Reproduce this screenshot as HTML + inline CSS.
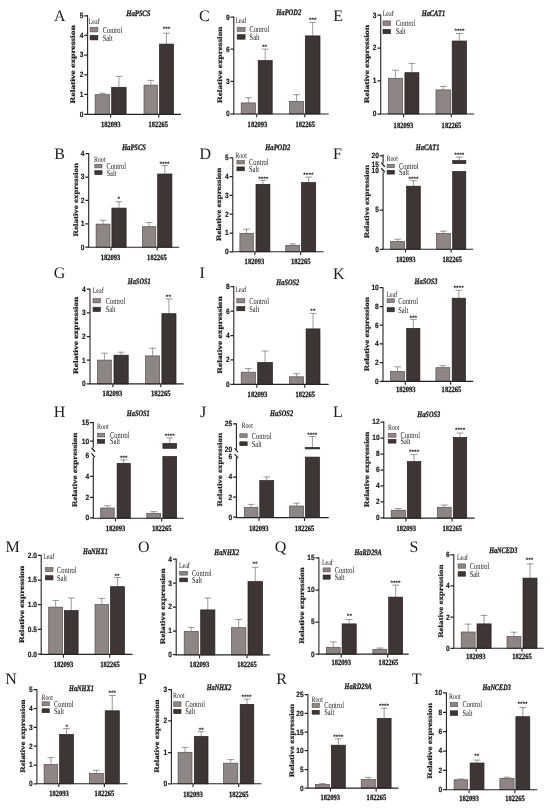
<!DOCTYPE html>
<html lang="en"><head><meta charset="utf-8"><title>Relative expression of salt-responsive genes</title>
<style>
html,body{margin:0;padding:0;background:#fff}
body{width:550px;height:808px;overflow:hidden}
svg{display:block;filter:blur(0.35px)}
text{fill:#1f1b1b;font-family:"Liberation Serif",serif;text-rendering:geometricPrecision}
.pl{font-size:16px}
.tk{font-family:"Liberation Sans",sans-serif;font-weight:bold;font-size:7.6px;stroke:#1f1b1b;stroke-width:0.2px}
.st{font-family:"Liberation Sans",sans-serif;font-weight:bold;font-size:6.5px;fill:#2a2626}
.ti{font-weight:bold;font-style:italic;font-size:8.3px;stroke:#1f1b1b;stroke-width:0.3px}
.ts{font-size:8px}
.lg{font-size:9px}
.xl{font-weight:bold;font-size:8px;stroke:#1f1b1b;stroke-width:0.3px}
.yl{font-weight:bold;font-size:10px;stroke:#1f1b1b;stroke-width:0.3px}
</style></head><body>
<svg width="550" height="808" viewBox="0 0 550 808">
<rect width="550" height="808" fill="#fff"/>
<g id="panel-A">
<text class="pl" transform="translate(53.9 20.7) scale(1 1)">A</text>
<path d="M102.4 94.4V93.2M99 93.2H105.8" stroke="#5a5656" stroke-width="0.6" fill="none"/>
<rect x="95.1" y="94.7" width="14.6" height="19.7" fill="#8d8685" stroke="#544d4c" stroke-width="0.7"/>
<path d="M118.9 87V76.4M115.5 76.4H122.3" stroke="#5a5656" stroke-width="0.6" fill="none"/>
<rect x="111.7" y="87.3" width="14.4" height="27.1" fill="#3e3634" stroke="#241e1d" stroke-width="0.7"/>
<path d="M150.8 84.8V80.4M147.4 80.4H154.2" stroke="#5a5656" stroke-width="0.6" fill="none"/>
<rect x="144" y="85.1" width="13.6" height="29.3" fill="#8d8685" stroke="#544d4c" stroke-width="0.7"/>
<path d="M166.5 43.8V33.2M163.1 33.2H169.9" stroke="#5a5656" stroke-width="0.6" fill="none"/>
<rect x="159.5" y="44.1" width="14" height="70.3" fill="#3e3634" stroke="#241e1d" stroke-width="0.7"/>
<path d="M87.6 15V114.4" stroke="#262222" stroke-width="1.1" fill="none"/>
<path d="M87.05 114.4H181" stroke="#262222" stroke-width="1.1" fill="none"/>
<path d="M110.6 114.4v3.3M158.75 114.4v3.3" stroke="#262222" stroke-width="1.1" fill="none"/>
<path d="M84.3 15.8H87.6M84.3 35.4H87.6M84.3 55H87.6M84.3 74.8H87.6M84.3 94.4H87.6M84.3 114.3H87.6" stroke="#262222" stroke-width="1.25" fill="none"/>
<text class="tk" transform="translate(83.4 18.25) scale(0.87 1)" text-anchor="end">5</text>
<text class="tk" transform="translate(83.4 37.85) scale(0.87 1)" text-anchor="end">4</text>
<text class="tk" transform="translate(83.4 57.45) scale(0.87 1)" text-anchor="end">3</text>
<text class="tk" transform="translate(83.4 77.25) scale(0.87 1)" text-anchor="end">2</text>
<text class="tk" transform="translate(83.4 96.85) scale(0.87 1)" text-anchor="end">1</text>
<text class="tk" transform="translate(83.4 116.75) scale(0.87 1)" text-anchor="end">0</text>
<text class="st" transform="translate(166.6 31.3) scale(1 1)" text-anchor="middle">***</text>
<text class="ti" transform="translate(138.4 15.6) scale(0.807 1)" text-anchor="middle">HaP5CS</text>
<text class="ts" transform="translate(88.7 23.8) scale(0.745 1)">Leaf</text>
<rect x="90.1" y="27.4" width="7.8" height="4.5" fill="#8d8685" stroke="#544d4c" stroke-width="0.6"/>
<rect x="90.1" y="35.4" width="7.8" height="4.5" fill="#3e3634" stroke="#241e1d" stroke-width="0.6"/>
<text class="lg" transform="translate(102.7 32.55) scale(0.713 1)">Control</text>
<text class="lg" transform="translate(102.7 40.55) scale(0.713 1)">Salt</text>
<text class="xl" transform="translate(110.7 127.25) scale(0.815 1)" text-anchor="middle">182093</text>
<text class="xl" transform="translate(158.2 127.25) scale(0.815 1)" text-anchor="middle">182265</text>
<text class="yl" transform="translate(75.4 64.35) rotate(-90) scale(0.95 0.7)" text-anchor="middle">Relative expression</text>
</g>
<g id="panel-C">
<text class="pl" transform="translate(198.9 20.7) scale(1 1)">C</text>
<path d="M248.3 102.6V97.7M244.9 97.7H251.7" stroke="#5a5656" stroke-width="0.6" fill="none"/>
<rect x="241.2" y="102.9" width="14.2" height="11.1" fill="#8d8685" stroke="#544d4c" stroke-width="0.7"/>
<path d="M265.2 60.3V49.1M261.8 49.1H268.6" stroke="#5a5656" stroke-width="0.6" fill="none"/>
<rect x="258.2" y="60.6" width="14" height="53.4" fill="#3e3634" stroke="#241e1d" stroke-width="0.7"/>
<path d="M296.55 101V94.7M293.15 94.7H299.95" stroke="#5a5656" stroke-width="0.6" fill="none"/>
<rect x="289.6" y="101.3" width="13.9" height="12.7" fill="#8d8685" stroke="#544d4c" stroke-width="0.7"/>
<path d="M312.65 35.6V22.4M309.25 22.4H316.05" stroke="#5a5656" stroke-width="0.6" fill="none"/>
<rect x="305.3" y="35.9" width="14.7" height="78.1" fill="#3e3634" stroke="#241e1d" stroke-width="0.7"/>
<path d="M233.8 16.5V114" stroke="#262222" stroke-width="1.1" fill="none"/>
<path d="M233.25 114H328.7" stroke="#262222" stroke-width="1.1" fill="none"/>
<path d="M256.7 114v3.3M304.8 114v3.3" stroke="#262222" stroke-width="1.1" fill="none"/>
<path d="M230.5 17.05H233.8M230.5 49.1H233.8M230.5 81.4H233.8M230.5 114H233.8" stroke="#262222" stroke-width="1.25" fill="none"/>
<text class="tk" transform="translate(229.6 19.5) scale(0.87 1)" text-anchor="end">9</text>
<text class="tk" transform="translate(229.6 51.55) scale(0.87 1)" text-anchor="end">6</text>
<text class="tk" transform="translate(229.6 83.85) scale(0.87 1)" text-anchor="end">3</text>
<text class="tk" transform="translate(229.6 116.45) scale(0.87 1)" text-anchor="end">0</text>
<text class="st" transform="translate(264.6 49.1) scale(1 1)" text-anchor="middle">**</text>
<text class="st" transform="translate(312.7 21.6) scale(1 1)" text-anchor="middle">***</text>
<text class="ti" transform="translate(288.8 14.5) scale(0.786 1)" text-anchor="middle">HaPOD2</text>
<text class="ts" transform="translate(235.4 23.2) scale(0.745 1)">Leaf</text>
<rect x="237.2" y="27.3" width="7.9" height="4.1" fill="#8d8685" stroke="#544d4c" stroke-width="0.6"/>
<rect x="237.2" y="34.7" width="7.9" height="4.5" fill="#3e3634" stroke="#241e1d" stroke-width="0.6"/>
<text class="lg" transform="translate(249.6 32.25) scale(0.713 1)">Control</text>
<text class="lg" transform="translate(249.6 39.85) scale(0.713 1)">Salt</text>
<text class="xl" transform="translate(257.4 126.5) scale(0.815 1)" text-anchor="middle">182093</text>
<text class="xl" transform="translate(305.3 126.5) scale(0.815 1)" text-anchor="middle">182265</text>
<text class="yl" transform="translate(222.1 64.75) rotate(-90) scale(0.93 0.7)" text-anchor="middle">Relative expression</text>
</g>
<g id="panel-E">
<text class="pl" transform="translate(333.2 20.5) scale(1 1)">E</text>
<path d="M395.4 78V70.2M392 70.2H398.8" stroke="#5a5656" stroke-width="0.6" fill="none"/>
<rect x="388.3" y="78.3" width="14.2" height="35.7" fill="#8d8685" stroke="#544d4c" stroke-width="0.7"/>
<path d="M411.9 72.4V63.4M408.5 63.4H415.3" stroke="#5a5656" stroke-width="0.6" fill="none"/>
<rect x="404.9" y="72.7" width="14" height="41.3" fill="#3e3634" stroke="#241e1d" stroke-width="0.7"/>
<path d="M443.25 89.6V86.4M439.85 86.4H446.65" stroke="#5a5656" stroke-width="0.6" fill="none"/>
<rect x="436" y="89.9" width="14.5" height="24.1" fill="#8d8685" stroke="#544d4c" stroke-width="0.7"/>
<path d="M459.35 40.7V33.5M455.95 33.5H462.75" stroke="#5a5656" stroke-width="0.6" fill="none"/>
<rect x="452.2" y="41" width="14.3" height="73" fill="#3e3634" stroke="#241e1d" stroke-width="0.7"/>
<path d="M380.7 14.6V114" stroke="#262222" stroke-width="1.1" fill="none"/>
<path d="M380.15 114H474.3" stroke="#262222" stroke-width="1.1" fill="none"/>
<path d="M403.6 114v3.3M451.25 114v3.3" stroke="#262222" stroke-width="1.1" fill="none"/>
<path d="M377.4 15.1H380.7M377.4 48H380.7M377.4 80.9H380.7M377.4 114H380.7" stroke="#262222" stroke-width="1.25" fill="none"/>
<text class="tk" transform="translate(376.5 17.55) scale(0.87 1)" text-anchor="end">3</text>
<text class="tk" transform="translate(376.5 50.45) scale(0.87 1)" text-anchor="end">2</text>
<text class="tk" transform="translate(376.5 83.35) scale(0.87 1)" text-anchor="end">1</text>
<text class="tk" transform="translate(376.5 116.45) scale(0.87 1)" text-anchor="end">0</text>
<text class="st" transform="translate(459.5 33.3) scale(1 1)" text-anchor="middle">****</text>
<text class="ti" transform="translate(433.4 16) scale(0.772 1)" text-anchor="middle">HaCAT1</text>
<text class="ts" transform="translate(382.7 16.4) scale(0.745 1)">Leaf</text>
<rect x="383" y="20.9" width="7.5" height="4.6" fill="#8d8685" stroke="#544d4c" stroke-width="0.6"/>
<rect x="383" y="29.4" width="7.5" height="4.3" fill="#3e3634" stroke="#241e1d" stroke-width="0.6"/>
<text class="lg" transform="translate(395.7 26.1) scale(0.713 1)">Control</text>
<text class="lg" transform="translate(395.7 34.45) scale(0.713 1)">Salt</text>
<text class="xl" transform="translate(403.4 127.5) scale(0.815 1)" text-anchor="middle">182093</text>
<text class="xl" transform="translate(451.4 127.5) scale(0.815 1)" text-anchor="middle">182265</text>
<text class="yl" transform="translate(368.9 64.15) rotate(-90) scale(0.95 0.7)" text-anchor="middle">Relative expression</text>
</g>
<g id="panel-B">
<text class="pl" transform="translate(54.2 158.6) scale(1 1)">B</text>
<path d="M103.05 223.8V220.3M99.65 220.3H106.45" stroke="#5a5656" stroke-width="0.6" fill="none"/>
<rect x="96.1" y="224.1" width="13.9" height="23.1" fill="#8d8685" stroke="#544d4c" stroke-width="0.7"/>
<path d="M119 207.8V201.7M115.6 201.7H122.4" stroke="#5a5656" stroke-width="0.6" fill="none"/>
<rect x="111.9" y="208.1" width="14.2" height="39.1" fill="#3e3634" stroke="#241e1d" stroke-width="0.7"/>
<path d="M149.1 226.4V222.6M145.7 222.6H152.5" stroke="#5a5656" stroke-width="0.6" fill="none"/>
<rect x="142.4" y="226.7" width="13.4" height="20.5" fill="#8d8685" stroke="#544d4c" stroke-width="0.7"/>
<path d="M164.8 173.7V165.5M161.4 165.5H168.2" stroke="#5a5656" stroke-width="0.6" fill="none"/>
<rect x="157.7" y="174" width="14.2" height="73.2" fill="#3e3634" stroke="#241e1d" stroke-width="0.7"/>
<path d="M88.7 153.1V247.2" stroke="#262222" stroke-width="1.1" fill="none"/>
<path d="M88.15 247.2H179.2" stroke="#262222" stroke-width="1.1" fill="none"/>
<path d="M111.1 247.2v3.3M157.15 247.2v3.3" stroke="#262222" stroke-width="1.1" fill="none"/>
<path d="M85.4 153.6H88.7M85.4 177H88.7M85.4 200.4H88.7M85.4 223.8H88.7M85.4 247.2H88.7" stroke="#262222" stroke-width="1.25" fill="none"/>
<text class="tk" transform="translate(84.5 156.05) scale(0.87 1)" text-anchor="end">4</text>
<text class="tk" transform="translate(84.5 179.45) scale(0.87 1)" text-anchor="end">3</text>
<text class="tk" transform="translate(84.5 202.85) scale(0.87 1)" text-anchor="end">2</text>
<text class="tk" transform="translate(84.5 226.25) scale(0.87 1)" text-anchor="end">1</text>
<text class="tk" transform="translate(84.5 249.65) scale(0.87 1)" text-anchor="end">0</text>
<text class="st" transform="translate(118.7 201.3) scale(1 1)" text-anchor="middle">*</text>
<text class="st" transform="translate(164.5 165.8) scale(1 1)" text-anchor="middle">****</text>
<text class="ti" transform="translate(134 149.8) scale(0.807 1)" text-anchor="middle">HaP5CS</text>
<text class="ts" transform="translate(93.9 162.1) scale(0.745 1)">Root</text>
<rect x="94.8" y="164.4" width="7.2" height="3.5" fill="#8d8685" stroke="#544d4c" stroke-width="0.6"/>
<rect x="94.8" y="170.7" width="7.2" height="3.9" fill="#3e3634" stroke="#241e1d" stroke-width="0.6"/>
<text class="lg" transform="translate(106.5 169.05) scale(0.713 1)">Control</text>
<text class="lg" transform="translate(106.5 175.55) scale(0.713 1)">Salt</text>
<text class="xl" transform="translate(110.6 259.8) scale(0.815 1)" text-anchor="middle">182093</text>
<text class="xl" transform="translate(156.9 259.8) scale(0.815 1)" text-anchor="middle">182265</text>
<text class="yl" transform="translate(78.1 199.75) rotate(-90) scale(0.89 0.7)" text-anchor="middle">Relative expression</text>
</g>
<g id="panel-D">
<text class="pl" transform="translate(199.4 158.6) scale(1 1)">D</text>
<path d="M246.6 233V229.2M243.2 229.2H250" stroke="#5a5656" stroke-width="0.6" fill="none"/>
<rect x="239.9" y="233.3" width="13.4" height="18.5" fill="#8d8685" stroke="#544d4c" stroke-width="0.7"/>
<path d="M262.95 184.1V180.3M259.55 180.3H266.35" stroke="#5a5656" stroke-width="0.6" fill="none"/>
<rect x="256" y="184.4" width="13.9" height="67.4" fill="#3e3634" stroke="#241e1d" stroke-width="0.7"/>
<path d="M292.7 245.2V243.9M289.3 243.9H296.1" stroke="#5a5656" stroke-width="0.6" fill="none"/>
<rect x="285.7" y="245.5" width="14" height="6.3" fill="#8d8685" stroke="#544d4c" stroke-width="0.7"/>
<path d="M308.6 182.3V177.1M305.2 177.1H312" stroke="#5a5656" stroke-width="0.6" fill="none"/>
<rect x="301.5" y="182.6" width="14.2" height="69.2" fill="#3e3634" stroke="#241e1d" stroke-width="0.7"/>
<path d="M232.8 157.4V251.8" stroke="#262222" stroke-width="1.1" fill="none"/>
<path d="M232.25 251.8H323.6" stroke="#262222" stroke-width="1.1" fill="none"/>
<path d="M254.9 251.8v3.3M300.7 251.8v3.3" stroke="#262222" stroke-width="1.1" fill="none"/>
<path d="M229.5 157.9H232.8M229.5 176.5H232.8M229.5 195.3H232.8M229.5 214.2H232.8M229.5 233H232.8M229.5 251.8H232.8" stroke="#262222" stroke-width="1.25" fill="none"/>
<text class="tk" transform="translate(228.6 160.35) scale(0.87 1)" text-anchor="end">5</text>
<text class="tk" transform="translate(228.6 178.95) scale(0.87 1)" text-anchor="end">4</text>
<text class="tk" transform="translate(228.6 197.75) scale(0.87 1)" text-anchor="end">3</text>
<text class="tk" transform="translate(228.6 216.65) scale(0.87 1)" text-anchor="end">2</text>
<text class="tk" transform="translate(228.6 235.45) scale(0.87 1)" text-anchor="end">1</text>
<text class="tk" transform="translate(228.6 254.25) scale(0.87 1)" text-anchor="end">0</text>
<text class="st" transform="translate(263.3 180.8) scale(1 1)" text-anchor="middle">****</text>
<text class="st" transform="translate(308.4 177) scale(1 1)" text-anchor="middle">****</text>
<text class="ti" transform="translate(277.8 149.8) scale(0.786 1)" text-anchor="middle">HaPOD2</text>
<text class="ts" transform="translate(235.3 158) scale(0.745 1)">Root</text>
<rect x="236.9" y="160.5" width="7.5" height="3.5" fill="#8d8685" stroke="#544d4c" stroke-width="0.6"/>
<rect x="236.9" y="166.9" width="7.5" height="3.9" fill="#3e3634" stroke="#241e1d" stroke-width="0.6"/>
<text class="lg" transform="translate(249 165.15) scale(0.713 1)">Control</text>
<text class="lg" transform="translate(249 171.75) scale(0.713 1)">Salt</text>
<text class="xl" transform="translate(254.4 264.1) scale(0.815 1)" text-anchor="middle">182093</text>
<text class="xl" transform="translate(300.7 264.1) scale(0.815 1)" text-anchor="middle">182265</text>
<text class="yl" transform="translate(221.3 204.35) rotate(-90) scale(0.89 0.7)" text-anchor="middle">Relative expression</text>
</g>
<g id="panel-F">
<text class="pl" transform="translate(333 158.6) scale(1 1)">F</text>
<path d="M397.65 241.2V239.2M394.25 239.2H401.05" stroke="#5a5656" stroke-width="0.6" fill="none"/>
<rect x="390.7" y="241.5" width="13.9" height="7.8" fill="#8d8685" stroke="#544d4c" stroke-width="0.7"/>
<path d="M413.45 185.9V180.6M410.05 180.6H416.85" stroke="#5a5656" stroke-width="0.6" fill="none"/>
<rect x="406.6" y="186.2" width="13.7" height="63.1" fill="#3e3634" stroke="#241e1d" stroke-width="0.7"/>
<path d="M443.4 233.3V231.2M440 231.2H446.8" stroke="#5a5656" stroke-width="0.6" fill="none"/>
<rect x="436.5" y="233.6" width="13.8" height="15.7" fill="#8d8685" stroke="#544d4c" stroke-width="0.7"/>
<path d="M459.25 160.3V157M455.85 157H462.65" stroke="#5a5656" stroke-width="0.6" fill="none"/>
<rect x="452.7" y="171.5" width="13.1" height="77.8" fill="#3e3634" stroke="#241e1d" stroke-width="0.7"/>
<rect x="452.7" y="160.6" width="13.1" height="3" fill="#3e3634" stroke="#241e1d" stroke-width="0.7"/>
<path d="M383.1 154.3V163.2M383.1 172.3V249.3" stroke="#262222" stroke-width="1.1" fill="none"/>
<path d="M381.3 162.75L384.8 166.75M381.3 168.25L384.8 172.25" stroke="#262222" stroke-width="1.25" fill="none"/>
<path d="M382.55 249.3H473.2" stroke="#262222" stroke-width="1.1" fill="none"/>
<path d="M405.5 249.3v3.3M451.15 249.3v3.3" stroke="#262222" stroke-width="1.1" fill="none"/>
<path d="M379.8 155.8H383.1M379.8 210H383.1M379.8 249.3H383.1" stroke="#262222" stroke-width="1.25" fill="none"/>
<text class="tk" transform="translate(378.9 158.25) scale(0.87 1)" text-anchor="end">20</text>
<text class="tk" transform="translate(378.9 166.65) scale(0.87 1)" text-anchor="end">15</text>
<text class="tk" transform="translate(378.9 173.45) scale(0.87 1)" text-anchor="end">10</text>
<text class="tk" transform="translate(378.9 212.45) scale(0.87 1)" text-anchor="end">5</text>
<text class="tk" transform="translate(378.9 251.75) scale(0.87 1)" text-anchor="end">0</text>
<text class="st" transform="translate(413.5 180.7) scale(1 1)" text-anchor="middle">****</text>
<text class="st" transform="translate(459.2 156.9) scale(1 1)" text-anchor="middle">****</text>
<text class="ti" transform="translate(427.6 150.4) scale(0.772 1)" text-anchor="middle">HaCAT1</text>
<text class="ts" transform="translate(386.4 161.2) scale(0.745 1)">Root</text>
<rect x="387.1" y="164.3" width="7.2" height="3.4" fill="#8d8685" stroke="#544d4c" stroke-width="0.6"/>
<rect x="387.1" y="170.3" width="7.2" height="3.8" fill="#3e3634" stroke="#241e1d" stroke-width="0.6"/>
<text class="lg" transform="translate(399 168.9) scale(0.713 1)">Control</text>
<text class="lg" transform="translate(399 175.1) scale(0.713 1)">Salt</text>
<text class="xl" transform="translate(405.7 262.1) scale(0.815 1)" text-anchor="middle">182093</text>
<text class="xl" transform="translate(452.2 262.1) scale(0.815 1)" text-anchor="middle">182265</text>
<text class="yl" transform="translate(368.6 201.65) rotate(-90) scale(0.89 0.7)" text-anchor="middle">Relative expression</text>
</g>
<g id="panel-G">
<text class="pl" transform="translate(53.8 278.4) scale(1 1)">G</text>
<path d="M104.4 359.8V353.2M101 353.2H107.8" stroke="#5a5656" stroke-width="0.6" fill="none"/>
<rect x="97.5" y="360.1" width="13.8" height="23.8" fill="#8d8685" stroke="#544d4c" stroke-width="0.7"/>
<path d="M121.1 354.9V352.2M117.7 352.2H124.5" stroke="#5a5656" stroke-width="0.6" fill="none"/>
<rect x="114" y="355.2" width="14.2" height="28.7" fill="#3e3634" stroke="#241e1d" stroke-width="0.7"/>
<path d="M152.6 355.6V348.2M149.2 348.2H156" stroke="#5a5656" stroke-width="0.6" fill="none"/>
<rect x="145.6" y="355.9" width="14" height="28" fill="#8d8685" stroke="#544d4c" stroke-width="0.7"/>
<path d="M168.95 313.4V298.9M165.55 298.9H172.35" stroke="#5a5656" stroke-width="0.6" fill="none"/>
<rect x="161.9" y="313.7" width="14.1" height="70.2" fill="#3e3634" stroke="#241e1d" stroke-width="0.7"/>
<path d="M90 288.7V383.9" stroke="#262222" stroke-width="1.1" fill="none"/>
<path d="M89.45 383.9H183.6" stroke="#262222" stroke-width="1.1" fill="none"/>
<path d="M112.85 383.9v3.3M160.8 383.9v3.3" stroke="#262222" stroke-width="1.1" fill="none"/>
<path d="M86.7 289.2H90M86.7 312.8H90M86.7 336.5H90M86.7 360.2H90M86.7 383.9H90" stroke="#262222" stroke-width="1.25" fill="none"/>
<text class="tk" transform="translate(85.8 291.65) scale(0.87 1)" text-anchor="end">4</text>
<text class="tk" transform="translate(85.8 315.25) scale(0.87 1)" text-anchor="end">3</text>
<text class="tk" transform="translate(85.8 338.95) scale(0.87 1)" text-anchor="end">2</text>
<text class="tk" transform="translate(85.8 362.65) scale(0.87 1)" text-anchor="end">1</text>
<text class="tk" transform="translate(85.8 386.35) scale(0.87 1)" text-anchor="end">0</text>
<text class="st" transform="translate(168.4 298.8) scale(1 1)" text-anchor="middle">**</text>
<text class="ti" transform="translate(139.2 284) scale(0.767 1)" text-anchor="middle">HaSOS1</text>
<text class="ts" transform="translate(92.7 293.2) scale(0.745 1)">Leaf</text>
<rect x="93" y="298.6" width="7.5" height="4.3" fill="#8d8685" stroke="#544d4c" stroke-width="0.6"/>
<rect x="93" y="307.2" width="7.5" height="4.3" fill="#3e3634" stroke="#241e1d" stroke-width="0.6"/>
<text class="lg" transform="translate(105.7 303.65) scale(0.713 1)">Control</text>
<text class="lg" transform="translate(105.7 312.25) scale(0.713 1)">Salt</text>
<text class="xl" transform="translate(112.4 396.2) scale(0.815 1)" text-anchor="middle">182093</text>
<text class="xl" transform="translate(160.8 396.2) scale(0.815 1)" text-anchor="middle">182265</text>
<text class="yl" transform="translate(78.4 335.35) rotate(-90) scale(0.94 0.7)" text-anchor="middle">Relative expression</text>
</g>
<g id="panel-I">
<text class="pl" transform="translate(199.6 278.4) scale(1 1)">I</text>
<path d="M248.3 371.9V368.6M244.9 368.6H251.7" stroke="#5a5656" stroke-width="0.6" fill="none"/>
<rect x="241.2" y="372.2" width="14.2" height="12.2" fill="#8d8685" stroke="#544d4c" stroke-width="0.7"/>
<path d="M265.05 362.2V351M261.65 351H268.45" stroke="#5a5656" stroke-width="0.6" fill="none"/>
<rect x="257.7" y="362.5" width="14.7" height="21.9" fill="#3e3634" stroke="#241e1d" stroke-width="0.7"/>
<path d="M296.55 376.5V373.7M293.15 373.7H299.95" stroke="#5a5656" stroke-width="0.6" fill="none"/>
<rect x="289.6" y="376.8" width="13.9" height="7.6" fill="#8d8685" stroke="#544d4c" stroke-width="0.7"/>
<path d="M313.05 328.6V313.4M309.65 313.4H316.45" stroke="#5a5656" stroke-width="0.6" fill="none"/>
<rect x="306.1" y="328.9" width="13.9" height="55.5" fill="#3e3634" stroke="#241e1d" stroke-width="0.7"/>
<path d="M233.8 286.1V384.4" stroke="#262222" stroke-width="1.1" fill="none"/>
<path d="M233.25 384.4H328.7" stroke="#262222" stroke-width="1.1" fill="none"/>
<path d="M256.8 384.4v3.3M304.8 384.4v3.3" stroke="#262222" stroke-width="1.1" fill="none"/>
<path d="M230.5 286.6H233.8M230.5 311.1H233.8M230.5 335.5H233.8M230.5 359.9H233.8M230.5 384.4H233.8" stroke="#262222" stroke-width="1.25" fill="none"/>
<text class="tk" transform="translate(229.6 289.05) scale(0.87 1)" text-anchor="end">8</text>
<text class="tk" transform="translate(229.6 313.55) scale(0.87 1)" text-anchor="end">6</text>
<text class="tk" transform="translate(229.6 337.95) scale(0.87 1)" text-anchor="end">4</text>
<text class="tk" transform="translate(229.6 362.35) scale(0.87 1)" text-anchor="end">2</text>
<text class="tk" transform="translate(229.6 386.85) scale(0.87 1)" text-anchor="end">0</text>
<text class="st" transform="translate(312.9 312.5) scale(1 1)" text-anchor="middle">**</text>
<text class="ti" transform="translate(287.8 284.5) scale(0.767 1)" text-anchor="middle">HaSOS2</text>
<text class="ts" transform="translate(235.4 292.1) scale(0.745 1)">Leaf</text>
<rect x="236.8" y="298.6" width="8" height="4.3" fill="#8d8685" stroke="#544d4c" stroke-width="0.6"/>
<rect x="236.8" y="306.5" width="8" height="4.3" fill="#3e3634" stroke="#241e1d" stroke-width="0.6"/>
<text class="lg" transform="translate(249.3 303.65) scale(0.713 1)">Control</text>
<text class="lg" transform="translate(249.3 311.55) scale(0.713 1)">Salt</text>
<text class="xl" transform="translate(257.4 396.5) scale(0.815 1)" text-anchor="middle">182093</text>
<text class="xl" transform="translate(305.3 396.5) scale(0.815 1)" text-anchor="middle">182265</text>
<text class="yl" transform="translate(222.4 335) rotate(-90) scale(0.94 0.7)" text-anchor="middle">Relative expression</text>
</g>
<g id="panel-K">
<text class="pl" transform="translate(333 278.5) scale(1 1)">K</text>
<path d="M397.55 371.2V366.8M394.15 366.8H400.95" stroke="#5a5656" stroke-width="0.6" fill="none"/>
<rect x="390.6" y="371.5" width="13.9" height="9.9" fill="#8d8685" stroke="#544d4c" stroke-width="0.7"/>
<path d="M413.3 328.1V319.4M409.9 319.4H416.7" stroke="#5a5656" stroke-width="0.6" fill="none"/>
<rect x="406.7" y="328.4" width="13.2" height="53" fill="#3e3634" stroke="#241e1d" stroke-width="0.7"/>
<path d="M442.85 367.4V365.6M439.45 365.6H446.25" stroke="#5a5656" stroke-width="0.6" fill="none"/>
<rect x="435.9" y="367.7" width="13.9" height="13.7" fill="#8d8685" stroke="#544d4c" stroke-width="0.7"/>
<path d="M458.8 297.9V290.3M455.4 290.3H462.2" stroke="#5a5656" stroke-width="0.6" fill="none"/>
<rect x="452.2" y="298.2" width="13.2" height="83.2" fill="#3e3634" stroke="#241e1d" stroke-width="0.7"/>
<path d="M383 287.2V381.4" stroke="#262222" stroke-width="1.1" fill="none"/>
<path d="M382.45 381.4H473.2" stroke="#262222" stroke-width="1.1" fill="none"/>
<path d="M405.25 381.4v3.3M450.65 381.4v3.3" stroke="#262222" stroke-width="1.1" fill="none"/>
<path d="M379.7 287.7H383M379.7 306.6H383M379.7 325.2H383M379.7 343.8H383M379.7 362.7H383M379.7 381.4H383" stroke="#262222" stroke-width="1.25" fill="none"/>
<text class="tk" transform="translate(378.8 290.15) scale(0.87 1)" text-anchor="end">10</text>
<text class="tk" transform="translate(378.8 309.05) scale(0.87 1)" text-anchor="end">8</text>
<text class="tk" transform="translate(378.8 327.65) scale(0.87 1)" text-anchor="end">6</text>
<text class="tk" transform="translate(378.8 346.25) scale(0.87 1)" text-anchor="end">4</text>
<text class="tk" transform="translate(378.8 365.15) scale(0.87 1)" text-anchor="end">2</text>
<text class="tk" transform="translate(378.8 383.85) scale(0.87 1)" text-anchor="end">0</text>
<text class="st" transform="translate(413.2 319.7) scale(1 1)" text-anchor="middle">***</text>
<text class="st" transform="translate(458.6 290.1) scale(1 1)" text-anchor="middle">****</text>
<text class="ti" transform="translate(426 283.6) scale(0.767 1)" text-anchor="middle">HaSOS3</text>
<text class="ts" transform="translate(386.4 296.8) scale(0.745 1)">Leaf</text>
<rect x="387.1" y="298.8" width="7.2" height="3.8" fill="#8d8685" stroke="#544d4c" stroke-width="0.6"/>
<rect x="387.1" y="307.7" width="7.2" height="4.1" fill="#3e3634" stroke="#241e1d" stroke-width="0.6"/>
<text class="lg" transform="translate(398.3 303.6) scale(0.713 1)">Control</text>
<text class="lg" transform="translate(398.3 312.65) scale(0.713 1)">Salt</text>
<text class="xl" transform="translate(405.7 392.1) scale(0.815 1)" text-anchor="middle">182093</text>
<text class="xl" transform="translate(451.4 392.1) scale(0.815 1)" text-anchor="middle">182265</text>
<text class="yl" transform="translate(368.6 334.25) rotate(-90) scale(0.9 0.7)" text-anchor="middle">Relative expression</text>
</g>
<g id="panel-H">
<text class="pl" transform="translate(53.8 417.4) scale(1 1)">H</text>
<path d="M107.45 507.7V505.7M104.05 505.7H110.85" stroke="#5a5656" stroke-width="0.6" fill="none"/>
<rect x="100.7" y="508" width="13.5" height="10.2" fill="#8d8685" stroke="#544d4c" stroke-width="0.7"/>
<path d="M123.7 463V459.9M120.3 459.9H127.1" stroke="#5a5656" stroke-width="0.6" fill="none"/>
<rect x="117.1" y="463.3" width="13.2" height="54.9" fill="#3e3634" stroke="#241e1d" stroke-width="0.7"/>
<path d="M153.7 513V511.6M150.3 511.6H157.1" stroke="#5a5656" stroke-width="0.6" fill="none"/>
<rect x="146.8" y="513.3" width="13.8" height="4.9" fill="#8d8685" stroke="#544d4c" stroke-width="0.7"/>
<path d="M169.75 443.2V437.8M166.35 437.8H173.15" stroke="#5a5656" stroke-width="0.6" fill="none"/>
<rect x="162.9" y="456.5" width="13.7" height="61.7" fill="#3e3634" stroke="#241e1d" stroke-width="0.7"/>
<rect x="162.9" y="443.5" width="13.7" height="4.8" fill="#3e3634" stroke="#241e1d" stroke-width="0.7"/>
<path d="M93.3 421.8V447.7M93.3 457.3V518.2" stroke="#262222" stroke-width="1.1" fill="none"/>
<path d="M91.5 447.75L95 451.75M91.5 453.35L95 457.35" stroke="#262222" stroke-width="1.25" fill="none"/>
<path d="M92.75 518.2H183.6" stroke="#262222" stroke-width="1.1" fill="none"/>
<path d="M115.5 518.2v3.3M161.7 518.2v3.3" stroke="#262222" stroke-width="1.1" fill="none"/>
<path d="M90 422.5H93.3M90 441.1H93.3M90 476.4H93.3M90 497.3H93.3M90 517.9H93.3" stroke="#262222" stroke-width="1.25" fill="none"/>
<text class="tk" transform="translate(89.1 424.95) scale(0.87 1)" text-anchor="end">15</text>
<text class="tk" transform="translate(89.1 443.55) scale(0.87 1)" text-anchor="end">10</text>
<text class="tk" transform="translate(89.1 458.05) scale(0.87 1)" text-anchor="end">6</text>
<text class="tk" transform="translate(89.1 478.85) scale(0.87 1)" text-anchor="end">4</text>
<text class="tk" transform="translate(89.1 499.75) scale(0.87 1)" text-anchor="end">2</text>
<text class="tk" transform="translate(89.1 520.35) scale(0.87 1)" text-anchor="end">0</text>
<text class="st" transform="translate(123.7 460.1) scale(1 1)" text-anchor="middle">***</text>
<text class="st" transform="translate(169.7 437.9) scale(1 1)" text-anchor="middle">****</text>
<text class="ti" transform="translate(138.3 416.1) scale(0.767 1)" text-anchor="middle">HaSOS1</text>
<text class="ts" transform="translate(97.1 429.4) scale(0.745 1)">Root</text>
<rect x="97.4" y="433.2" width="7.3" height="3.8" fill="#8d8685" stroke="#544d4c" stroke-width="0.6"/>
<rect x="97.4" y="439.4" width="7.3" height="3.9" fill="#3e3634" stroke="#241e1d" stroke-width="0.6"/>
<text class="lg" transform="translate(110 438) scale(0.713 1)">Control</text>
<text class="lg" transform="translate(110 444.25) scale(0.713 1)">Salt</text>
<text class="xl" transform="translate(115.5 530.8) scale(0.815 1)" text-anchor="middle">182093</text>
<text class="xl" transform="translate(161.7 530.8) scale(0.815 1)" text-anchor="middle">182265</text>
<text class="yl" transform="translate(77.3 469.85) rotate(-90) scale(0.9 0.7)" text-anchor="middle">Relative expression</text>
</g>
<g id="panel-J">
<text class="pl" transform="translate(199.9 417.4) scale(1 1)">J</text>
<path d="M251.1 507.2V504.4M247.7 504.4H254.5" stroke="#5a5656" stroke-width="0.6" fill="none"/>
<rect x="244.3" y="507.5" width="13.6" height="10.1" fill="#8d8685" stroke="#544d4c" stroke-width="0.7"/>
<path d="M266.75 480.3V477M263.35 477H270.15" stroke="#5a5656" stroke-width="0.6" fill="none"/>
<rect x="259.8" y="480.6" width="13.9" height="37" fill="#3e3634" stroke="#241e1d" stroke-width="0.7"/>
<path d="M296.55 505.7V503.2M293.15 503.2H299.95" stroke="#5a5656" stroke-width="0.6" fill="none"/>
<rect x="289.6" y="506" width="13.9" height="11.6" fill="#8d8685" stroke="#544d4c" stroke-width="0.7"/>
<path d="M312.4 447.2V436.5M309 436.5H315.8" stroke="#5a5656" stroke-width="0.6" fill="none"/>
<rect x="305.3" y="457.1" width="14.2" height="60.5" fill="#3e3634" stroke="#241e1d" stroke-width="0.7"/>
<rect x="305.3" y="447.5" width="14.2" height="1.4" fill="#3e3634" stroke="#241e1d" stroke-width="0.7"/>
<path d="M236.4 423.3V449.4M236.4 457.3V517.6" stroke="#262222" stroke-width="1.1" fill="none"/>
<path d="M234.6 448.35L238.1 452.35M234.6 454.2L238.1 458.2" stroke="#262222" stroke-width="1.25" fill="none"/>
<path d="M235.85 517.6H328.7" stroke="#262222" stroke-width="1.1" fill="none"/>
<path d="M259 517.6v3.3M304.55 517.6v3.3" stroke="#262222" stroke-width="1.1" fill="none"/>
<path d="M233.1 423.8H236.4M233.1 477H236.4M233.1 497.1H236.4M233.1 517.2H236.4" stroke="#262222" stroke-width="1.25" fill="none"/>
<text class="tk" transform="translate(232.2 426.25) scale(0.87 1)" text-anchor="end">25</text>
<text class="tk" transform="translate(232.2 451.65) scale(0.87 1)" text-anchor="end">20</text>
<text class="tk" transform="translate(232.2 459.05) scale(0.87 1)" text-anchor="end">6</text>
<text class="tk" transform="translate(232.2 479.45) scale(0.87 1)" text-anchor="end">4</text>
<text class="tk" transform="translate(232.2 499.55) scale(0.87 1)" text-anchor="end">2</text>
<text class="tk" transform="translate(232.2 519.65) scale(0.87 1)" text-anchor="end">0</text>
<text class="st" transform="translate(312.2 436.5) scale(1 1)" text-anchor="middle">****</text>
<text class="ti" transform="translate(281.6 416.1) scale(0.767 1)" text-anchor="middle">HaSOS2</text>
<text class="ts" transform="translate(241.4 428.3) scale(0.745 1)">Root</text>
<rect x="239.8" y="433.8" width="7.4" height="3.7" fill="#8d8685" stroke="#544d4c" stroke-width="0.6"/>
<rect x="239.8" y="441.8" width="7.4" height="3.9" fill="#3e3634" stroke="#241e1d" stroke-width="0.6"/>
<text class="lg" transform="translate(251.8 438.55) scale(0.713 1)">Control</text>
<text class="lg" transform="translate(251.8 446.65) scale(0.713 1)">Salt</text>
<text class="xl" transform="translate(258.7 530.5) scale(0.815 1)" text-anchor="middle">182093</text>
<text class="xl" transform="translate(304.5 530.5) scale(0.815 1)" text-anchor="middle">182265</text>
<text class="yl" transform="translate(221.9 469.75) rotate(-90) scale(0.89 0.7)" text-anchor="middle">Relative expression</text>
</g>
<g id="panel-L">
<text class="pl" transform="translate(333 417.3) scale(1 1)">L</text>
<path d="M398.3 509.9V508.5M394.9 508.5H401.7" stroke="#5a5656" stroke-width="0.6" fill="none"/>
<rect x="391.2" y="510.2" width="14.2" height="7.9" fill="#8d8685" stroke="#544d4c" stroke-width="0.7"/>
<path d="M414.05 461.3V454.6M410.65 454.6H417.45" stroke="#5a5656" stroke-width="0.6" fill="none"/>
<rect x="407.3" y="461.6" width="13.5" height="56.5" fill="#3e3634" stroke="#241e1d" stroke-width="0.7"/>
<path d="M444.35 507V505M440.95 505H447.75" stroke="#5a5656" stroke-width="0.6" fill="none"/>
<rect x="437.5" y="507.3" width="13.7" height="10.8" fill="#8d8685" stroke="#544d4c" stroke-width="0.7"/>
<path d="M460 437.2V433M456.6 433H463.4" stroke="#5a5656" stroke-width="0.6" fill="none"/>
<rect x="453.3" y="437.5" width="13.4" height="80.6" fill="#3e3634" stroke="#241e1d" stroke-width="0.7"/>
<path d="M383.8 421.5V518.1" stroke="#262222" stroke-width="1.1" fill="none"/>
<path d="M383.25 518.1H474.6" stroke="#262222" stroke-width="1.1" fill="none"/>
<path d="M406 518.1v3.3M452.1 518.1v3.3" stroke="#262222" stroke-width="1.1" fill="none"/>
<path d="M380.5 422H383.8M380.5 438H383.8M380.5 454H383.8M380.5 470H383.8M380.5 485.8H383.8M380.5 501.8H383.8M380.5 517.8H383.8" stroke="#262222" stroke-width="1.25" fill="none"/>
<text class="tk" transform="translate(379.6 424.45) scale(0.87 1)" text-anchor="end">12</text>
<text class="tk" transform="translate(379.6 440.45) scale(0.87 1)" text-anchor="end">10</text>
<text class="tk" transform="translate(379.6 456.45) scale(0.87 1)" text-anchor="end">8</text>
<text class="tk" transform="translate(379.6 472.45) scale(0.87 1)" text-anchor="end">6</text>
<text class="tk" transform="translate(379.6 488.25) scale(0.87 1)" text-anchor="end">4</text>
<text class="tk" transform="translate(379.6 504.25) scale(0.87 1)" text-anchor="end">2</text>
<text class="tk" transform="translate(379.6 520.25) scale(0.87 1)" text-anchor="end">0</text>
<text class="st" transform="translate(414.1 454.4) scale(1 1)" text-anchor="middle">****</text>
<text class="st" transform="translate(460.1 431.8) scale(1 1)" text-anchor="middle">****</text>
<text class="ti" transform="translate(428.7 416.7) scale(0.767 1)" text-anchor="middle">HaSOS3</text>
<text class="ts" transform="translate(387.9 430) scale(0.745 1)">Root</text>
<rect x="388.2" y="433.3" width="7.8" height="3.9" fill="#8d8685" stroke="#544d4c" stroke-width="0.6"/>
<rect x="388.2" y="439.3" width="7.8" height="3.8" fill="#3e3634" stroke="#241e1d" stroke-width="0.6"/>
<text class="lg" transform="translate(400.5 438.15) scale(0.713 1)">Control</text>
<text class="lg" transform="translate(400.5 444.1) scale(0.713 1)">Salt</text>
<text class="xl" transform="translate(406.3 530.5) scale(0.815 1)" text-anchor="middle">182093</text>
<text class="xl" transform="translate(452.2 530.5) scale(0.815 1)" text-anchor="middle">182265</text>
<text class="yl" transform="translate(368.6 469.4) rotate(-90) scale(0.92 0.7)" text-anchor="middle">Relative expression</text>
</g>
<g id="panel-M">
<text class="pl" transform="translate(5.5 551.8) scale(1 1)">M</text>
<path d="M55.65 606.8V600.4M52.25 600.4H59.05" stroke="#5a5656" stroke-width="0.6" fill="none"/>
<rect x="48.7" y="607.1" width="13.9" height="47.3" fill="#8d8685" stroke="#544d4c" stroke-width="0.7"/>
<path d="M71.25 610.3V598.1M67.85 598.1H74.65" stroke="#5a5656" stroke-width="0.6" fill="none"/>
<rect x="64.4" y="610.6" width="13.7" height="43.8" fill="#3e3634" stroke="#241e1d" stroke-width="0.7"/>
<path d="M101.8 604.2V598.4M98.4 598.4H105.2" stroke="#5a5656" stroke-width="0.6" fill="none"/>
<rect x="95" y="604.5" width="13.6" height="49.9" fill="#8d8685" stroke="#544d4c" stroke-width="0.7"/>
<path d="M117.45 586.4V577.5M114.05 577.5H120.85" stroke="#5a5656" stroke-width="0.6" fill="none"/>
<rect x="110.5" y="586.7" width="13.9" height="67.7" fill="#3e3634" stroke="#241e1d" stroke-width="0.7"/>
<path d="M41.2 554.9V654.4" stroke="#262222" stroke-width="1.1" fill="none"/>
<path d="M40.65 654.4H132.5" stroke="#262222" stroke-width="1.1" fill="none"/>
<path d="M63.4 654.4v3.3M109.7 654.4v3.3" stroke="#262222" stroke-width="1.1" fill="none"/>
<path d="M37.9 555.4H41.2M37.9 580H41.2M37.9 604.7H41.2M37.9 629.4H41.2M37.9 654.1H41.2" stroke="#262222" stroke-width="1.25" fill="none"/>
<text class="tk" transform="translate(37 557.85) scale(0.87 1)" text-anchor="end">2.0</text>
<text class="tk" transform="translate(37 582.45) scale(0.87 1)" text-anchor="end">1.5</text>
<text class="tk" transform="translate(37 607.15) scale(0.87 1)" text-anchor="end">1.0</text>
<text class="tk" transform="translate(37 631.85) scale(0.87 1)" text-anchor="end">0.5</text>
<text class="tk" transform="translate(37 656.55) scale(0.87 1)" text-anchor="end">0.0</text>
<text class="st" transform="translate(117.1 577.8) scale(1 1)" text-anchor="middle">**</text>
<text class="ti" transform="translate(95.4 554.3) scale(0.755 1)" text-anchor="middle">HaNHX1</text>
<text class="ts" transform="translate(43.3 559.3) scale(0.745 1)">Leaf</text>
<rect x="45.4" y="567.6" width="7.6" height="4.1" fill="#8d8685" stroke="#544d4c" stroke-width="0.6"/>
<rect x="45.4" y="575.7" width="7.6" height="4.2" fill="#3e3634" stroke="#241e1d" stroke-width="0.6"/>
<text class="lg" transform="translate(57 572.55) scale(0.713 1)">Control</text>
<text class="lg" transform="translate(57 580.7) scale(0.713 1)">Salt</text>
<text class="xl" transform="translate(63.6 667.2) scale(0.815 1)" text-anchor="middle">182093</text>
<text class="xl" transform="translate(110 667.2) scale(0.815 1)" text-anchor="middle">182265</text>
<text class="yl" transform="translate(24.3 604.4) rotate(-90) scale(0.94 0.7)" text-anchor="middle">Relative expression</text>
</g>
<g id="panel-O">
<text class="pl" transform="translate(138 551.9) scale(1 1)">O</text>
<path d="M191.25 631V627.4M187.85 627.4H194.65" stroke="#5a5656" stroke-width="0.6" fill="none"/>
<rect x="184.2" y="631.3" width="14.1" height="23.6" fill="#8d8685" stroke="#544d4c" stroke-width="0.7"/>
<path d="M207.8 609.6V597.9M204.4 597.9H211.2" stroke="#5a5656" stroke-width="0.6" fill="none"/>
<rect x="200.7" y="609.9" width="14.2" height="45" fill="#3e3634" stroke="#241e1d" stroke-width="0.7"/>
<path d="M238.7 627.4V619.5M235.3 619.5H242.1" stroke="#5a5656" stroke-width="0.6" fill="none"/>
<rect x="231.5" y="627.7" width="14.4" height="27.2" fill="#8d8685" stroke="#544d4c" stroke-width="0.7"/>
<path d="M255.25 581.3V567.3M251.85 567.3H258.65" stroke="#5a5656" stroke-width="0.6" fill="none"/>
<rect x="248" y="581.6" width="14.5" height="73.3" fill="#3e3634" stroke="#241e1d" stroke-width="0.7"/>
<path d="M176.2 558.7V654.9" stroke="#262222" stroke-width="1.1" fill="none"/>
<path d="M175.65 654.9H269.9" stroke="#262222" stroke-width="1.1" fill="none"/>
<path d="M199.55 654.9v3.3M247 654.9v3.3" stroke="#262222" stroke-width="1.1" fill="none"/>
<path d="M172.9 559.2H176.2M172.9 583.1H176.2M172.9 607H176.2M172.9 631H176.2M172.9 654.6H176.2" stroke="#262222" stroke-width="1.25" fill="none"/>
<text class="tk" transform="translate(172 561.65) scale(0.87 1)" text-anchor="end">4</text>
<text class="tk" transform="translate(172 585.55) scale(0.87 1)" text-anchor="end">3</text>
<text class="tk" transform="translate(172 609.45) scale(0.87 1)" text-anchor="end">2</text>
<text class="tk" transform="translate(172 633.45) scale(0.87 1)" text-anchor="end">1</text>
<text class="tk" transform="translate(172 657.05) scale(0.87 1)" text-anchor="end">0</text>
<text class="st" transform="translate(255.1 565.8) scale(1 1)" text-anchor="middle">**</text>
<text class="ti" transform="translate(226.7 554.5) scale(0.755 1)" text-anchor="middle">HaNHX2</text>
<text class="ts" transform="translate(178.9 568) scale(0.745 1)">Leaf</text>
<rect x="179.7" y="571.3" width="7.8" height="3.8" fill="#8d8685" stroke="#544d4c" stroke-width="0.6"/>
<rect x="179.7" y="578" width="7.8" height="3.8" fill="#3e3634" stroke="#241e1d" stroke-width="0.6"/>
<text class="lg" transform="translate(192 576.1) scale(0.713 1)">Control</text>
<text class="lg" transform="translate(192 582.8) scale(0.713 1)">Salt</text>
<text class="xl" transform="translate(199.4 667.4) scale(0.815 1)" text-anchor="middle">182093</text>
<text class="xl" transform="translate(247 667.4) scale(0.815 1)" text-anchor="middle">182265</text>
<text class="yl" transform="translate(164.5 606.35) rotate(-90) scale(0.92 0.7)" text-anchor="middle">Relative expression</text>
</g>
<g id="panel-Q">
<text class="pl" transform="translate(274.8 551.9) scale(1 1)">Q</text>
<path d="M333.25 647V641.9M329.85 641.9H336.65" stroke="#5a5656" stroke-width="0.6" fill="none"/>
<rect x="326.3" y="647.3" width="13.9" height="6.8" fill="#8d8685" stroke="#544d4c" stroke-width="0.7"/>
<path d="M349.15 623.6V619.5M345.75 619.5H352.55" stroke="#5a5656" stroke-width="0.6" fill="none"/>
<rect x="342.1" y="623.9" width="14.1" height="30.2" fill="#3e3634" stroke="#241e1d" stroke-width="0.7"/>
<path d="M379.85 649V648M376.45 648H383.25" stroke="#5a5656" stroke-width="0.6" fill="none"/>
<rect x="372.9" y="649.3" width="13.9" height="4.8" fill="#8d8685" stroke="#544d4c" stroke-width="0.7"/>
<path d="M395.65 596.8V585.1M392.25 585.1H399.05" stroke="#5a5656" stroke-width="0.6" fill="none"/>
<rect x="388.7" y="597.1" width="13.9" height="57" fill="#3e3634" stroke="#241e1d" stroke-width="0.7"/>
<path d="M318.9 557.4V654.1" stroke="#262222" stroke-width="1.1" fill="none"/>
<path d="M318.35 654.1H408.7" stroke="#262222" stroke-width="1.1" fill="none"/>
<path d="M341.25 654.1v3.3M387.75 654.1v3.3" stroke="#262222" stroke-width="1.1" fill="none"/>
<path d="M315.6 557.9H318.9M315.6 590H318.9M315.6 622H318.9M315.6 654.1H318.9" stroke="#262222" stroke-width="1.25" fill="none"/>
<text class="tk" transform="translate(314.7 560.35) scale(0.87 1)" text-anchor="end">15</text>
<text class="tk" transform="translate(314.7 592.45) scale(0.87 1)" text-anchor="end">10</text>
<text class="tk" transform="translate(314.7 624.45) scale(0.87 1)" text-anchor="end">5</text>
<text class="tk" transform="translate(314.7 656.55) scale(0.87 1)" text-anchor="end">0</text>
<text class="st" transform="translate(349.4 618) scale(1 1)" text-anchor="middle">**</text>
<text class="st" transform="translate(395.5 584.9) scale(1 1)" text-anchor="middle">****</text>
<text class="ti" transform="translate(368 555.1) scale(0.756 1)" text-anchor="middle">HaRD29A</text>
<text class="ts" transform="translate(321.9 565) scale(0.745 1)">Leaf</text>
<rect x="323.1" y="567.9" width="7.1" height="4" fill="#8d8685" stroke="#544d4c" stroke-width="0.6"/>
<rect x="323.1" y="575" width="7.1" height="4.2" fill="#3e3634" stroke="#241e1d" stroke-width="0.6"/>
<text class="lg" transform="translate(334.7 572.8) scale(0.713 1)">Control</text>
<text class="lg" transform="translate(334.7 580) scale(0.713 1)">Salt</text>
<text class="xl" transform="translate(341.3 664.9) scale(0.815 1)" text-anchor="middle">182093</text>
<text class="xl" transform="translate(388.4 664.9) scale(0.815 1)" text-anchor="middle">182265</text>
<text class="yl" transform="translate(303.8 605.55) rotate(-90) scale(0.93 0.7)" text-anchor="middle">Relative expression</text>
</g>
<g id="panel-S">
<text class="pl" transform="translate(409.4 552.3) scale(1 1)">S</text>
<path d="M468.15 631.7V624.1M464.75 624.1H471.55" stroke="#5a5656" stroke-width="0.6" fill="none"/>
<rect x="461.2" y="632" width="13.9" height="16.3" fill="#8d8685" stroke="#544d4c" stroke-width="0.7"/>
<path d="M484.05 623.6V615.4M480.65 615.4H487.45" stroke="#5a5656" stroke-width="0.6" fill="none"/>
<rect x="477" y="623.9" width="14.1" height="24.4" fill="#3e3634" stroke="#241e1d" stroke-width="0.7"/>
<path d="M513.95 636.3V632.2M510.55 632.2H517.35" stroke="#5a5656" stroke-width="0.6" fill="none"/>
<rect x="507" y="636.6" width="13.9" height="11.7" fill="#8d8685" stroke="#544d4c" stroke-width="0.7"/>
<path d="M530 577.8V563.8M526.6 563.8H533.4" stroke="#5a5656" stroke-width="0.6" fill="none"/>
<rect x="523" y="578.1" width="14" height="70.2" fill="#3e3634" stroke="#241e1d" stroke-width="0.7"/>
<path d="M453.8 554.4V648.3" stroke="#262222" stroke-width="1.1" fill="none"/>
<path d="M453.25 648.3H543.6" stroke="#262222" stroke-width="1.1" fill="none"/>
<path d="M476.15 648.3v3.3M522 648.3v3.3" stroke="#262222" stroke-width="1.1" fill="none"/>
<path d="M450.5 554.9H453.8M450.5 585.9H453.8M450.5 617.2H453.8M450.5 648.3H453.8" stroke="#262222" stroke-width="1.25" fill="none"/>
<text class="tk" transform="translate(449.6 557.35) scale(0.87 1)" text-anchor="end">6</text>
<text class="tk" transform="translate(449.6 588.35) scale(0.87 1)" text-anchor="end">4</text>
<text class="tk" transform="translate(449.6 619.65) scale(0.87 1)" text-anchor="end">2</text>
<text class="tk" transform="translate(449.6 650.75) scale(0.87 1)" text-anchor="end">0</text>
<text class="st" transform="translate(529.6 562) scale(1 1)" text-anchor="middle">***</text>
<text class="ti" transform="translate(503.3 553.4) scale(0.748 1)" text-anchor="middle">HaNCED3</text>
<text class="ts" transform="translate(456.9 559.9) scale(0.745 1)">Leaf</text>
<rect x="458.1" y="563.9" width="7.4" height="4.3" fill="#8d8685" stroke="#544d4c" stroke-width="0.6"/>
<rect x="458.1" y="571.7" width="7.4" height="4.5" fill="#3e3634" stroke="#241e1d" stroke-width="0.6"/>
<text class="lg" transform="translate(469.7 568.95) scale(0.713 1)">Control</text>
<text class="lg" transform="translate(469.7 576.85) scale(0.713 1)">Salt</text>
<text class="xl" transform="translate(475.7 659.4) scale(0.815 1)" text-anchor="middle">182093</text>
<text class="xl" transform="translate(522 659.4) scale(0.815 1)" text-anchor="middle">182265</text>
<text class="yl" transform="translate(443.2 601.2) rotate(-90) scale(0.89 0.7)" text-anchor="middle">Relative expression</text>
</g>
<g id="panel-N">
<text class="pl" transform="translate(5.2 683.6) scale(1 1)">N</text>
<path d="M50.9 764.2V757.6M47.5 757.6H54.3" stroke="#5a5656" stroke-width="0.6" fill="none"/>
<rect x="44.1" y="764.5" width="13.6" height="19.3" fill="#8d8685" stroke="#544d4c" stroke-width="0.7"/>
<path d="M66.55 734.2V728.6M63.15 728.6H69.95" stroke="#5a5656" stroke-width="0.6" fill="none"/>
<rect x="59.6" y="734.5" width="13.9" height="49.3" fill="#3e3634" stroke="#241e1d" stroke-width="0.7"/>
<path d="M96.35 773.1V770.3M92.95 770.3H99.75" stroke="#5a5656" stroke-width="0.6" fill="none"/>
<rect x="89.4" y="773.4" width="13.9" height="10.4" fill="#8d8685" stroke="#544d4c" stroke-width="0.7"/>
<path d="M112.25 710.5V695.5M108.85 695.5H115.65" stroke="#5a5656" stroke-width="0.6" fill="none"/>
<rect x="105.2" y="710.8" width="14.1" height="73" fill="#3e3634" stroke="#241e1d" stroke-width="0.7"/>
<path d="M36.9 689.1V783.8" stroke="#262222" stroke-width="1.1" fill="none"/>
<path d="M36.35 783.8H127.3" stroke="#262222" stroke-width="1.1" fill="none"/>
<path d="M58.8 783.8v3.3M104.35 783.8v3.3" stroke="#262222" stroke-width="1.1" fill="none"/>
<path d="M33.6 689.6H36.9M33.6 708.5H36.9M33.6 727.3H36.9M33.6 746.1H36.9M33.6 765H36.9M33.6 783.8H36.9" stroke="#262222" stroke-width="1.25" fill="none"/>
<text class="tk" transform="translate(32.7 692.05) scale(0.87 1)" text-anchor="end">5</text>
<text class="tk" transform="translate(32.7 710.95) scale(0.87 1)" text-anchor="end">4</text>
<text class="tk" transform="translate(32.7 729.75) scale(0.87 1)" text-anchor="end">3</text>
<text class="tk" transform="translate(32.7 748.55) scale(0.87 1)" text-anchor="end">2</text>
<text class="tk" transform="translate(32.7 767.45) scale(0.87 1)" text-anchor="end">1</text>
<text class="tk" transform="translate(32.7 786.25) scale(0.87 1)" text-anchor="end">0</text>
<text class="st" transform="translate(66.7 728.6) scale(1 1)" text-anchor="middle">*</text>
<text class="st" transform="translate(112.2 695.1) scale(1 1)" text-anchor="middle">***</text>
<text class="ti" transform="translate(81.4 691.4) scale(0.755 1)" text-anchor="middle">HaNHX1</text>
<text class="ts" transform="translate(41.4 700) scale(0.745 1)">Root</text>
<rect x="42.1" y="701.8" width="7.2" height="3.9" fill="#8d8685" stroke="#544d4c" stroke-width="0.6"/>
<rect x="42.1" y="708.8" width="7.2" height="3.9" fill="#3e3634" stroke="#241e1d" stroke-width="0.6"/>
<text class="lg" transform="translate(54 706.65) scale(0.713 1)">Control</text>
<text class="lg" transform="translate(54 713.65) scale(0.713 1)">Salt</text>
<text class="xl" transform="translate(59 796.1) scale(0.815 1)" text-anchor="middle">182093</text>
<text class="xl" transform="translate(104.4 796.1) scale(0.815 1)" text-anchor="middle">182265</text>
<text class="yl" transform="translate(25.3 736.05) rotate(-90) scale(0.89 0.7)" text-anchor="middle">Relative expression</text>
</g>
<g id="panel-P">
<text class="pl" transform="translate(138 683.6) scale(1 1)">P</text>
<path d="M185.05 752V747.4M181.65 747.4H188.45" stroke="#5a5656" stroke-width="0.6" fill="none"/>
<rect x="178.1" y="752.3" width="13.9" height="31.5" fill="#8d8685" stroke="#544d4c" stroke-width="0.7"/>
<path d="M201.15 736.2V731.6M197.75 731.6H204.55" stroke="#5a5656" stroke-width="0.6" fill="none"/>
<rect x="194.3" y="736.5" width="13.7" height="47.3" fill="#3e3634" stroke="#241e1d" stroke-width="0.7"/>
<path d="M230.7 762.9V759.6M227.3 759.6H234.1" stroke="#5a5656" stroke-width="0.6" fill="none"/>
<rect x="223.6" y="763.2" width="14.2" height="20.6" fill="#8d8685" stroke="#544d4c" stroke-width="0.7"/>
<path d="M247 704.1V699M243.6 699H250.4" stroke="#5a5656" stroke-width="0.6" fill="none"/>
<rect x="240.2" y="704.4" width="13.6" height="79.4" fill="#3e3634" stroke="#241e1d" stroke-width="0.7"/>
<path d="M171.4 689.1V783.8" stroke="#262222" stroke-width="1.1" fill="none"/>
<path d="M170.85 783.8H261.5" stroke="#262222" stroke-width="1.1" fill="none"/>
<path d="M193.05 783.8v3.3M238.7 783.8v3.3" stroke="#262222" stroke-width="1.1" fill="none"/>
<path d="M168.1 689.6H171.4M168.1 720.9H171.4M168.1 752.5H171.4M168.1 783.8H171.4" stroke="#262222" stroke-width="1.25" fill="none"/>
<text class="tk" transform="translate(167.2 692.05) scale(0.87 1)" text-anchor="end">3</text>
<text class="tk" transform="translate(167.2 723.35) scale(0.87 1)" text-anchor="end">2</text>
<text class="tk" transform="translate(167.2 754.95) scale(0.87 1)" text-anchor="end">1</text>
<text class="tk" transform="translate(167.2 786.25) scale(0.87 1)" text-anchor="end">0</text>
<text class="st" transform="translate(201.2 731.9) scale(1 1)" text-anchor="middle">**</text>
<text class="st" transform="translate(246.5 698.8) scale(1 1)" text-anchor="middle">****</text>
<text class="ti" transform="translate(219 689.9) scale(0.755 1)" text-anchor="middle">HaNHX2</text>
<text class="ts" transform="translate(173 697.8) scale(0.745 1)">Root</text>
<rect x="173.7" y="701.8" width="7.3" height="4.6" fill="#8d8685" stroke="#544d4c" stroke-width="0.6"/>
<rect x="173.7" y="709.3" width="7.3" height="4.3" fill="#3e3634" stroke="#241e1d" stroke-width="0.6"/>
<text class="lg" transform="translate(185.3 707) scale(0.713 1)">Control</text>
<text class="lg" transform="translate(185.3 714.35) scale(0.713 1)">Salt</text>
<text class="xl" transform="translate(193 796.8) scale(0.815 1)" text-anchor="middle">182093</text>
<text class="xl" transform="translate(238.8 796.8) scale(0.815 1)" text-anchor="middle">182265</text>
<text class="yl" transform="translate(159.3 736.05) rotate(-90) scale(0.89 0.7)" text-anchor="middle">Relative expression</text>
</g>
<g id="panel-R">
<text class="pl" transform="translate(276.3 683.6) scale(1 1)">R</text>
<path d="M322.55 784.3V783.6M319.15 783.6H325.95" stroke="#5a5656" stroke-width="0.6" fill="none"/>
<rect x="315.6" y="784.6" width="13.9" height="3.5" fill="#8d8685" stroke="#544d4c" stroke-width="0.7"/>
<path d="M338.35 744.9V738.8M334.95 738.8H341.75" stroke="#5a5656" stroke-width="0.6" fill="none"/>
<rect x="331.4" y="745.2" width="13.9" height="42.9" fill="#3e3634" stroke="#241e1d" stroke-width="0.7"/>
<path d="M368.25 779.2V777.4M364.85 777.4H371.65" stroke="#5a5656" stroke-width="0.6" fill="none"/>
<rect x="361.2" y="779.5" width="14.1" height="8.6" fill="#8d8685" stroke="#544d4c" stroke-width="0.7"/>
<path d="M384.15 718.1V708.2M380.75 708.2H387.55" stroke="#5a5656" stroke-width="0.6" fill="none"/>
<rect x="377.2" y="718.4" width="13.9" height="69.7" fill="#3e3634" stroke="#241e1d" stroke-width="0.7"/>
<path d="M307.9 694.2V788.1" stroke="#262222" stroke-width="1.1" fill="none"/>
<path d="M307.35 788.1H398.5" stroke="#262222" stroke-width="1.1" fill="none"/>
<path d="M330.45 788.1v3.3M376.15 788.1v3.3" stroke="#262222" stroke-width="1.1" fill="none"/>
<path d="M304.6 694.7H307.9M304.6 713.3H307.9M304.6 732.1H307.9M304.6 750.7H307.9M304.6 769.6H307.9M304.6 788.1H307.9" stroke="#262222" stroke-width="1.25" fill="none"/>
<text class="tk" transform="translate(303.7 697.15) scale(0.87 1)" text-anchor="end">25</text>
<text class="tk" transform="translate(303.7 715.75) scale(0.87 1)" text-anchor="end">20</text>
<text class="tk" transform="translate(303.7 734.55) scale(0.87 1)" text-anchor="end">15</text>
<text class="tk" transform="translate(303.7 753.15) scale(0.87 1)" text-anchor="end">10</text>
<text class="tk" transform="translate(303.7 772.05) scale(0.87 1)" text-anchor="end">5</text>
<text class="tk" transform="translate(303.7 790.55) scale(0.87 1)" text-anchor="end">0</text>
<text class="st" transform="translate(338.2 738.7) scale(1 1)" text-anchor="middle">****</text>
<text class="st" transform="translate(384 707.7) scale(1 1)" text-anchor="middle">****</text>
<text class="ti" transform="translate(358.2 689.4) scale(0.756 1)" text-anchor="middle">HaRD29A</text>
<text class="ts" transform="translate(311.4 701.7) scale(0.745 1)">Root</text>
<rect x="312.1" y="703.6" width="7.2" height="3.9" fill="#8d8685" stroke="#544d4c" stroke-width="0.6"/>
<rect x="312.1" y="710.3" width="7.2" height="3.9" fill="#3e3634" stroke="#241e1d" stroke-width="0.6"/>
<text class="lg" transform="translate(324.3 708.45) scale(0.713 1)">Control</text>
<text class="lg" transform="translate(324.3 715.15) scale(0.713 1)">Salt</text>
<text class="xl" transform="translate(330.3 800.4) scale(0.815 1)" text-anchor="middle">182093</text>
<text class="xl" transform="translate(376.4 800.4) scale(0.815 1)" text-anchor="middle">182265</text>
<text class="yl" transform="translate(293.9 740.55) rotate(-90) scale(0.89 0.7)" text-anchor="middle">Relative expression</text>
</g>
<g id="panel-T">
<text class="pl" transform="translate(411.7 683.6) scale(1 1)">T</text>
<path d="M460.9 779.5V779M457.5 779H464.3" stroke="#5a5656" stroke-width="0.6" fill="none"/>
<rect x="454.1" y="779.8" width="13.6" height="9.9" fill="#8d8685" stroke="#544d4c" stroke-width="0.7"/>
<path d="M477.05 762.7V760.1M473.65 760.1H480.45" stroke="#5a5656" stroke-width="0.6" fill="none"/>
<rect x="470.1" y="763" width="13.9" height="26.7" fill="#3e3634" stroke="#241e1d" stroke-width="0.7"/>
<path d="M507 778V777.2M503.6 777.2H510.4" stroke="#5a5656" stroke-width="0.6" fill="none"/>
<rect x="499.9" y="778.3" width="14.2" height="11.4" fill="#8d8685" stroke="#544d4c" stroke-width="0.7"/>
<path d="M522.85 716.4V707.5M519.45 707.5H526.25" stroke="#5a5656" stroke-width="0.6" fill="none"/>
<rect x="515.9" y="716.7" width="13.9" height="73" fill="#3e3634" stroke="#241e1d" stroke-width="0.7"/>
<path d="M446.4 692.4V789.7" stroke="#262222" stroke-width="1.1" fill="none"/>
<path d="M445.85 789.7H537.3" stroke="#262222" stroke-width="1.1" fill="none"/>
<path d="M469.05 789.7v3.3M514.85 789.7v3.3" stroke="#262222" stroke-width="1.1" fill="none"/>
<path d="M443.1 692.9H446.4M443.1 712.3H446.4M443.1 731.6H446.4M443.1 751H446.4M443.1 770.3H446.4M443.1 789.7H446.4" stroke="#262222" stroke-width="1.25" fill="none"/>
<text class="tk" transform="translate(442.2 695.35) scale(0.87 1)" text-anchor="end">10</text>
<text class="tk" transform="translate(442.2 714.75) scale(0.87 1)" text-anchor="end">8</text>
<text class="tk" transform="translate(442.2 734.05) scale(0.87 1)" text-anchor="end">6</text>
<text class="tk" transform="translate(442.2 753.45) scale(0.87 1)" text-anchor="end">4</text>
<text class="tk" transform="translate(442.2 772.75) scale(0.87 1)" text-anchor="end">2</text>
<text class="tk" transform="translate(442.2 792.15) scale(0.87 1)" text-anchor="end">0</text>
<text class="st" transform="translate(476.7 758.3) scale(1 1)" text-anchor="middle">**</text>
<text class="st" transform="translate(522.5 706.4) scale(1 1)" text-anchor="middle">****</text>
<text class="ti" transform="translate(496.6 689.9) scale(0.748 1)" text-anchor="middle">HaNCED3</text>
<text class="ts" transform="translate(449.1 698.7) scale(0.745 1)">Root</text>
<rect x="450.2" y="702.4" width="7.5" height="4.3" fill="#8d8685" stroke="#544d4c" stroke-width="0.6"/>
<rect x="450.2" y="710.8" width="7.5" height="4.6" fill="#3e3634" stroke="#241e1d" stroke-width="0.6"/>
<text class="lg" transform="translate(462.5 707.45) scale(0.713 1)">Control</text>
<text class="lg" transform="translate(462.5 716) scale(0.713 1)">Salt</text>
<text class="xl" transform="translate(469 801.1) scale(0.815 1)" text-anchor="middle">182093</text>
<text class="xl" transform="translate(515.1 801.1) scale(0.815 1)" text-anchor="middle">182265</text>
<text class="yl" transform="translate(431.6 740.85) rotate(-90) scale(0.92 0.7)" text-anchor="middle">Relative expression</text>
</g>
</svg>
</body></html>
